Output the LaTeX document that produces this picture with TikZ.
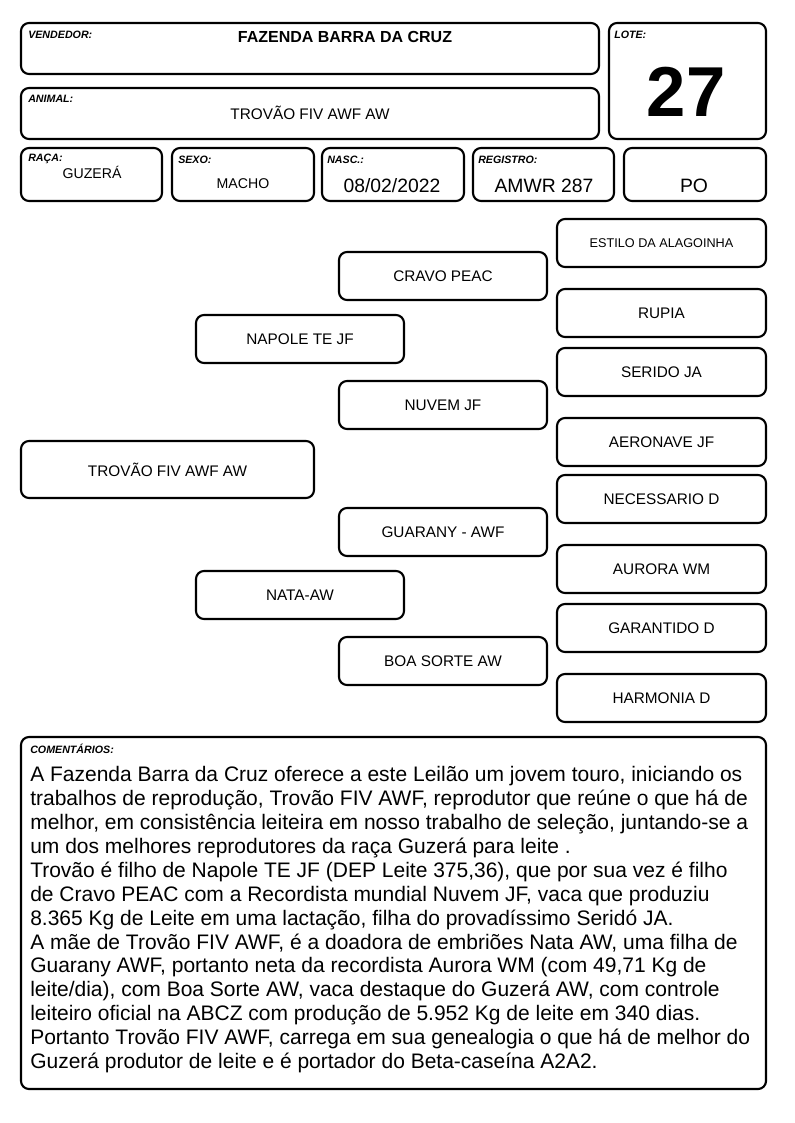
\documentclass[tikz,border=0pt]{standalone}
\usepackage{fontspec}
\setmainfont{Liberation Sans}

\begin{document}
\begin{tikzpicture}[x=0.75pt,y=-0.75pt,
  card/.style 2 args={draw,line width=1.6pt,rounded corners=6pt,minimum width=#1*0.75pt,minimum height=#2*0.75pt,inner sep=0pt},
  tag/.style={font=\bfseries\itshape\fontsize{8}{9}\selectfont,anchor=north west,inner sep=0pt},
  entry/.style={font=\fontsize{10.6}{13}\selectfont,inner sep=0pt},
  big/.style={font=\fontsize{14.5}{17}\selectfont,inner sep=0pt},
  sire/.style={card={208}{48},font=\fontsize{11.5}{14}\selectfont},
  anc/.style={card={209}{48},font=\fontsize{11.5}{14}\selectfont}]
\useasboundingbox (0,0) rectangle (794,1123);
% header
\node[card={578}{51}] (vend) at (310,48.5) {};
\node[card={157}{116}] (lote) at (687.5,81) {};
\node[card={578}{51}] (anim) at (310,113.5) {};
\node[card={141}{53}] (raca) at (91.5,174.5) {};
\node[card={142}{53}] (sexo) at (243,174.5) {};
\node[card={142}{53}] (nasc) at (393,174.5) {};
\node[card={141}{53}] (reg) at (543.5,174.5) {};
\node[card={142}{53}] (cat) at (695,174.5) {};
\node[tag] (vendtag) at (28,30.5) {VENDEDOR:};
\node[tag] (lotetag) at (614,30.5) {LOTE:};
\node[tag] (animtag) at (28,94.5) {ANIMAL:};
\node[tag] (racatag) at (28,153.5) {RAÇA:};
\node[tag] (sexotag) at (178,155.5) {SEXO:};
\node[tag] (nasctag) at (327,155.5) {NASC.:};
\node[tag] (regtag) at (478,155.5) {REGISTRO:};
\node[inner sep=0pt,font=\bfseries\fontsize{12}{14}\selectfont] (vendname) at (345,37) {FAZENDA BARRA DA CRUZ};
\node[inner sep=0pt,font=\fontsize{11.5}{14}\selectfont] (animname) at (310,113) {TROVÃO FIV AWF AW};
\node[inner sep=0pt,font=\bfseries\fontsize{53}{60}\selectfont] (lotenum) at (686,92) {27};
\node[entry] (racaval) at (92,172) {GUZERÁ};
\node[entry] (sexoval) at (243,184) {MACHO};
\node[big] (nascval) at (392,186) {08/02/2022};
\node[big] (regval) at (544,186) {AMWR 287};
\node[big] (catval) at (694,186) {PO};
% pedigree
\node[card={293}{57},font=\fontsize{11.5}{14}\selectfont] (trovao) at (167.5,469.5) {TROVÃO FIV AWF AW};
\node[sire] (napole) at (300,339) {NAPOLE TE JF};
\node[sire] (nata) at (300,595) {NATA-AW};
\node[sire] (cravo) at (443,276) {CRAVO PEAC};
\node[sire] (nuvem) at (443,405) {NUVEM JF};
\node[sire] (guarany) at (443,532) {GUARANY - AWF};
\node[sire] (boasorte) at (443,661) {BOA SORTE AW};
\node[anc,font=\fontsize{9.5}{12}\selectfont] (estilo) at (661.5,243) {ESTILO DA ALAGOINHA};
\node[anc] (rupia) at (661.5,313) {RUPIA};
\node[anc] (serido) at (661.5,372) {SERIDO JA};
\node[anc] (aeronave) at (661.5,442) {AERONAVE JF};
\node[anc] (necessario) at (661.5,499) {NECESSARIO D};
\node[anc] (aurora) at (661.5,569) {AURORA WM};
\node[anc] (garantido) at (661.5,628) {GARANTIDO D};
\node[anc] (harmonia) at (661.5,698) {HARMONIA D};
% comments
\node[card={745}{352}] (coment) at (393.5,913) {};
\node[tag] (comenttag) at (30,743.5) {COMENTÁRIOS:};
\node[anchor=north west,inner sep=0pt,align=left,font=\fontsize{15.75}{17.95}\selectfont] (comenttext) at (30,766) {%
A Fazenda Barra da Cruz oferece a este Leilão um jovem touro, iniciando os\\
trabalhos de reprodução, Trovão FIV AWF, reprodutor que reúne o que há de\\
melhor, em consistência leiteira em nosso trabalho de seleção, juntando-se a\\
um dos melhores reprodutores da raça Guzerá para leite .\\
Trovão é filho de Napole TE JF (DEP Leite 375,36), que por sua vez é filho\\
de Cravo PEAC com a Recordista mundial Nuvem JF, vaca que produziu\\
8.365 Kg de Leite em uma lactação, filha do provadíssimo Seridó JA.\\
A mãe de Trovão FIV AWF, é a doadora de embriões Nata AW, uma filha de\\
Guarany AWF, portanto neta da recordista Aurora WM (com 49,71 Kg de\\
leite/dia), com Boa Sorte AW, vaca destaque do Guzerá AW, com controle\\
leiteiro oficial na ABCZ com produção de 5.952 Kg de leite em 340 dias.\\
Portanto Trovão FIV AWF, carrega em sua genealogia o que há de melhor do\\
Guzerá produtor de leite e é portador do Beta-caseína A2A2.};
\end{tikzpicture}
\end{document}
